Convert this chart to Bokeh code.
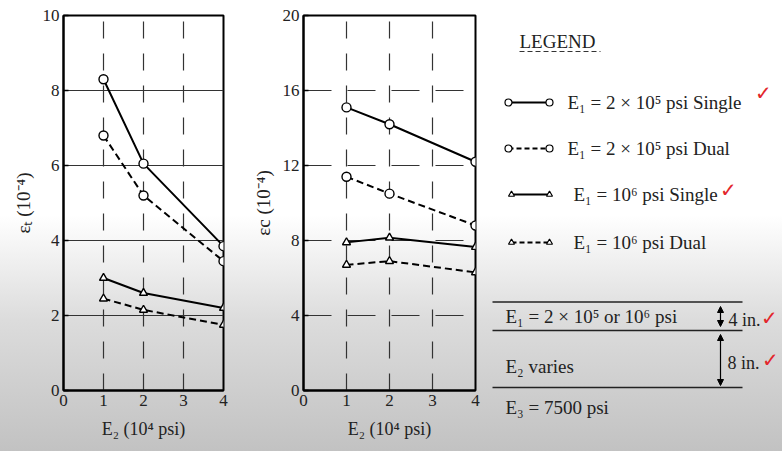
from bokeh.plotting import figure
from bokeh.layouts import row
from bokeh.models import Range1d, FixedTicker, Arrow, NormalHead, Label, Title
from bokeh.embed import file_html
from bokeh.resources import INLINE

# ---------------- data ----------------
E2 = [1, 2, 4]                       # 10^4 psi
x_ticks = [0, 1, 2, 3, 4]
left_ticks = [0, 2, 4, 6, 8, 10]
right_ticks = [0, 4, 8, 12, 16, 20]

# tensile strain (10^-4)
et_single_2e5 = [8.3, 6.05, 3.85]
et_dual_2e5 = [6.8, 5.2, 3.45]
et_single_1e6 = [3.0, 2.6, 2.2]
et_dual_1e6 = [2.45, 2.15, 1.75]

# compressive strain (10^-4)
ec_single_2e5 = [15.1, 14.2, 12.2]
ec_dual_2e5 = [11.4, 10.5, 8.8]
ec_single_1e6 = [7.9, 8.15, 7.65]
ec_dual_1e6 = [6.7, 6.9, 6.3]

series_labels = ["E\u2081 = 2 \u00d7 10\u2075 psi Single",
                 "E\u2081 = 2 \u00d7 10\u2075 psi Dual",
                 "E\u2081 = 10\u2076 psi Single",
                 "E\u2081 = 10\u2076 psi Dual"]
series_markers = ["circle", "circle", "triangle", "triangle"]
series_dashed = [False, True, False, True]

layer_texts = ["E\u2081 = 2 \u00d7 10\u2075 or 10\u2076 psi", "E\u2082 varies", "E\u2083 = 7500 psi"]
thickness_texts = ["4 in.", "8 in."]

FONT = "Liberation Serif"
DASH = "7 4"
TXT = "#222222"


def make_chart(width, frame_w, ymax, yticks, ylabel, values, hdash):
    p = figure(width=width, height=451, x_range=Range1d(0, 4), y_range=Range1d(0, ymax),
               output_backend="svg", toolbar_location=None,
               min_border_left=63, min_border_right=width - 63 - frame_w,
               min_border_top=15, min_border_bottom=61,
               background_fill_color=None, border_fill_color=None,
               outline_line_color="black", outline_line_width=2)
    p.xaxis.ticker = FixedTicker(ticks=x_ticks)
    p.yaxis.ticker = FixedTicker(ticks=yticks)
    for ax in (p.xaxis[0], p.yaxis[0]):
        ax.major_label_text_font = FONT
        ax.major_label_text_font_size = "17px"
        ax.major_label_text_color = TXT
        ax.axis_label_text_font = FONT
        ax.axis_label_text_font_size = "18px"
        ax.axis_label_text_font_style = "normal"
        ax.axis_label_text_color = TXT
        ax.axis_line_width = 2
        ax.axis_line_color = "black"
        ax.minor_tick_line_color = None
        ax.major_tick_out = 0
        ax.major_tick_line_width = 1.5
    p.yaxis.major_tick_in = 5
    p.yaxis.major_label_standoff = 4
    p.xaxis.major_tick_in = 0
    p.xaxis.major_label_standoff = 4
    p.xaxis.axis_label = "E\u2082 (10\u2074 psi)"
    p.xaxis.axis_label_standoff = 10
    p.yaxis.axis_label = ylabel
    p.yaxis.axis_label_standoff = 6
    p.yaxis.axis_label_text_font_size = "19px"

    p.xgrid.ticker = FixedTicker(ticks=[1, 2, 3])
    p.xgrid.grid_line_color = "#333333"
    p.xgrid.grid_line_width = 1.2
    p.xgrid.grid_line_dash = "17 15"
    p.ygrid.ticker = FixedTicker(ticks=yticks[1:-1])
    p.ygrid.grid_line_color = "#333333"
    p.ygrid.grid_line_width = 1
    p.ygrid.grid_line_dash = hdash

    for vals, marker, dashed in zip(values, series_markers, series_dashed):
        p.line(E2, vals, line_color="black", line_width=2,
               line_dash=DASH if dashed else "solid")
        p.scatter(E2, vals, marker=marker, size=9 if marker == "circle" else 8,
                  fill_color="white", line_color="black", line_width=1.4)
    return p


p1 = make_chart(240, 160, 10, left_ticks, "\u03b5\u209c (10\u207b\u2074)",
                [et_single_2e5, et_dual_2e5, et_single_1e6, et_dual_1e6], "solid")
p2 = make_chart(250, 172, 20, right_ticks, "\u03b5c (10\u207b\u2074)",
                [ec_single_2e5, ec_dual_2e5, ec_single_1e6, ec_dual_1e6], "28 16")

# ---------------- legend + layer panel (coordinates = page pixels) ----------------
q = figure(width=292, height=451, x_range=Range1d(490, 782), y_range=Range1d(390, 15),
           output_backend="svg", toolbar_location=None, x_axis_type=None, y_axis_type=None,
           min_border_left=0, min_border_right=0, min_border_top=15, min_border_bottom=61,
           background_fill_color=None, border_fill_color=None, outline_line_color=None)
q.grid.visible = False

q.add_layout(Label(x=519, y=41, text="LEGEND", text_font=FONT, text_font_size="19px",
                   text_baseline="middle", text_color=TXT))
q.line([519, 600], [51, 51], line_color="#333333", line_width=1.2, line_dash="5 3")

row_y = [102, 148, 194, 242]
for yy, lab, marker, dashed in zip(row_y, series_labels, series_markers, series_dashed):
    x0 = 508 if marker == "circle" else 511
    q.line([x0, 549], [yy, yy], line_color="black", line_width=2,
           line_dash="5 3" if dashed else "solid")
    q.scatter([x0, 549], [yy, yy], marker=marker, size=7 if marker == "circle" else 6,
              fill_color="white", line_color="black", line_width=1.2)
    q.add_layout(Label(x=567 if marker == "circle" else 573, y=yy, text=lab, text_font=FONT,
                       text_font_size="19px", text_baseline="middle", text_color=TXT))

# layer diagram
for yy in [301.5, 330, 387]:
    q.line([492, 742], [yy, yy], line_color="#222222", line_width=1.5)
for yy, t in zip([316, 366], layer_texts[:2]):
    q.add_layout(Label(x=505, y=yy, text=t, text_font=FONT, text_font_size="19px",
                       text_baseline="middle", text_color=TXT))
# bottom layer text lies below the panel frame -> placed as a left-aligned title below
q.add_layout(Title(text=layer_texts[2], align="left", offset=15, standoff=8,
                   text_font=FONT, text_font_size="19px", text_font_style="normal",
                   text_color=TXT), "below")
q.add_layout(Arrow(x_start=720, y_start=306, x_end=720, y_end=326,
                   start=NormalHead(size=6, fill_color="black", line_color="black"),
                   end=NormalHead(size=6, fill_color="black", line_color="black"),
                   line_width=1.2))
q.add_layout(Arrow(x_start=720, y_start=334, x_end=720, y_end=385,
                   start=NormalHead(size=6, fill_color="black", line_color="black"),
                   end=NormalHead(size=6, fill_color="black", line_color="black"),
                   line_width=1.2))
for xx, yy, t in zip([728, 727], [319, 362], thickness_texts):
    q.add_layout(Label(x=xx, y=yy, text=t, text_font=FONT, text_font_size="18px",
                       text_baseline="middle", text_color=TXT))

# red check marks (annotations on the scanned page)
for xx, yy in [(763, 92), (728, 189), (769, 317), (770, 359)]:
    q.add_layout(Label(x=xx, y=yy, text="\u2713", text_font="DejaVu Sans",
                       text_font_size="20px", text_font_style="bold", text_align="center",
                       text_baseline="middle", text_color="#e3262b"))

layout = row(p1, p2, q, styles={
    "background": "linear-gradient(to bottom, #ffffff 0px, #ffffff 215px, #dcdcdc 320px, #c2c2c2 451px)"})

open("out.html", "w").write(file_html(layout, INLINE))
